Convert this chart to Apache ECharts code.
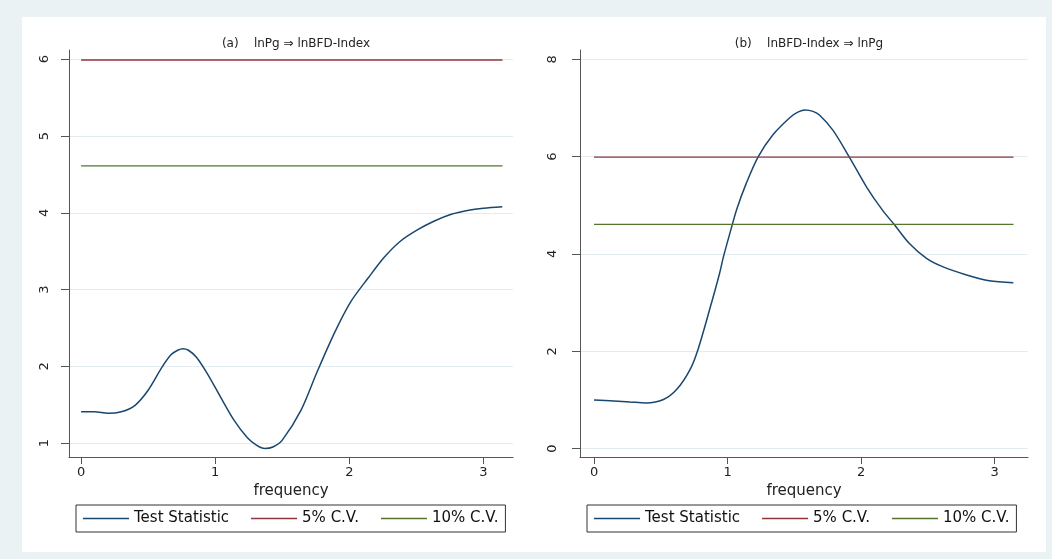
<!DOCTYPE html>
<html>
<head>
<meta charset="utf-8">
<script src="https://cdn.jsdelivr.net/npm/echarts@6/dist/echarts.min.js"></script>
<style>
  html, body { margin: 0; padding: 0; background: #eaf2f3; }
  #paper { position: absolute; left: 22px; top: 17px; width: 1024px; height: 535px; background: #fff; }
  #main { position: absolute; left: 0; top: 0; width: 1052px; height: 559px; }
</style>
</head>
<body>
<div id="paper"></div>
<div id="main"></div>
<script>
// panel (a): lnPg => lnBFD-Index
const freqA = [0, 0.1, 0.2, 0.3, 0.4, 0.5, 0.6, 0.67, 0.72, 0.76, 0.8, 0.86, 0.94, 1.04, 1.14, 1.24, 1.31, 1.37, 1.43, 1.5, 1.64, 1.76, 1.89, 2.01, 2.14, 2.26, 2.38, 2.51, 2.63, 2.76, 2.88, 3.0, 3.14];
const statA = [1.41, 1.41, 1.39, 1.41, 1.49, 1.69, 1.98, 2.15, 2.21, 2.23, 2.21, 2.12, 1.91, 1.60, 1.30, 1.07, 0.97, 0.93, 0.95, 1.04, 1.43, 1.93, 2.44, 2.84, 3.15, 3.42, 3.63, 3.78, 3.89, 3.98, 4.03, 4.06, 4.08];
// panel (b): lnBFD-Index => lnPg
const freqB = [0, 0.15, 0.27, 0.39, 0.52, 0.62, 0.72, 0.78, 0.87, 0.94, 0.97, 1.03, 1.07, 1.14, 1.23, 1.34, 1.47, 1.53, 1.58, 1.64, 1.69, 1.79, 1.91, 2.04, 2.16, 2.25, 2.36, 2.49, 2.61, 2.79, 2.96, 3.14];
const statB = [1.0, 0.98, 0.96, 0.94, 1.01, 1.22, 1.63, 2.05, 2.9, 3.6, 3.95, 4.55, 4.93, 5.45, 6.0, 6.45, 6.81, 6.92, 6.96, 6.93, 6.85, 6.54, 6.0, 5.38, 4.9, 4.6, 4.22, 3.91, 3.74, 3.57, 3.45, 3.41];
// critical values (chi2, 2 df)
const cvFreq = [0, 3.1416];
const cv5 = 5.99;
const cv10 = 4.61;

const titles = ['(a)    lnPg \u21D2 lnBFD-Index', '(b)    lnBFD-Index \u21D2 lnPg'];
const seriesNames = ['Test Statistic', '5% C.V.', '10% C.V.'];
const xTicks = [0, 1, 2, 3];
const yTicksA = [1, 2, 3, 4, 5, 6];
const yTicksB = [0, 2, 4, 6, 8];

const FONT = 'DejaVu Sans';
const colors = ['#1a476f', '#90353b', '#55752f'];

const chart = echarts.init(document.getElementById('main'));

function xAxisFor(idx, min, max) {
  return {
    type: 'value', gridIndex: idx, min: min, max: max,
    name: 'frequency', nameLocation: 'middle', nameGap: 22,
    nameTextStyle: { fontFamily: FONT, fontSize: 15, color: '#222' },
    axisLine: { onZero: false, lineStyle: { color: '#555', width: 1 } },
    axisTick: { customValues: xTicks, length: 7, lineStyle: { color: '#555' } },
    axisLabel: { customValues: xTicks, margin: 9, fontFamily: FONT, fontSize: 13, color: '#222' },
    splitLine: { show: false }
  };
}
function yAxisFor(idx, min, max, ticks, margin) {
  return {
    type: 'value', gridIndex: idx, min: min, max: max,
    axisLine: { show: true, onZero: false, lineStyle: { color: '#555', width: 1 } },
    axisTick: { show: true, customValues: ticks, length: 8, lineStyle: { color: '#555' } },
    axisLabel: { customValues: ticks, rotate: 90, margin: margin, fontFamily: FONT, fontSize: 13, color: '#222' },
    splitLine: { show: true, lineStyle: { color: '#e3ecf0', width: 1 } }
  };
}
function pairs(xs, ys) { return xs.map((x, i) => [x, ys[i]]); }

function panelSeries(idx, freq, stat) {
  return [
    { name: seriesNames[0], type: 'line', xAxisIndex: idx, yAxisIndex: idx, data: pairs(freq, stat),
      smooth: 0.3, symbol: 'none',
      lineStyle: { color: colors[0], width: 1.5 }, itemStyle: { color: colors[0] } },
    { name: seriesNames[1], type: 'line', xAxisIndex: idx, yAxisIndex: idx, data: pairs(cvFreq, [cv5, cv5]),
      symbol: 'none', lineStyle: { color: colors[1], width: 1.3 }, itemStyle: { color: colors[1] } },
    { name: seriesNames[2], type: 'line', xAxisIndex: idx, yAxisIndex: idx, data: pairs(cvFreq, [cv10, cv10]),
      symbol: 'none', lineStyle: { color: colors[2], width: 1.3 }, itemStyle: { color: colors[2] } }
  ];
}

function legendAt(left) {
  return {
    left: left, top: 505, orient: 'horizontal',
    data: seriesNames, icon: 'rect', itemWidth: 46, itemHeight: 1.5, itemGap: 22,
    borderColor: '#333', borderWidth: 1, padding: [5, 7],
    textStyle: { fontFamily: FONT, fontSize: 15, color: '#111', lineHeight: 17 },
    selectedMode: false
  };
}

chart.setOption({
  animation: false,
  title: [
    { text: titles[0], left: 291, top: 33, textAlign: 'center',
      textStyle: { fontFamily: FONT, fontSize: 12, fontWeight: 'normal', color: '#222' } },
    { text: titles[1], left: 804, top: 33, textAlign: 'center',
      textStyle: { fontFamily: FONT, fontSize: 12, fontWeight: 'normal', color: '#222' } }
  ],
  grid: [
    { left: 69, top: 50, width: 444, height: 407 },
    { left: 580, top: 50, width: 448, height: 407 }
  ],
  xAxis: [xAxisFor(0, -0.09, 3.22), xAxisFor(1, -0.105, 3.25)],
  yAxis: [yAxisFor(0, 0.82, 6.12, yTicksA, 18), yAxisFor(1, -0.17, 8.19, yTicksB, 21)],
  legend: [legendAt(76), legendAt(587)],
  series: panelSeries(0, freqA, statA).concat(panelSeries(1, freqB, statB))
});
</script>
</body>
</html>
